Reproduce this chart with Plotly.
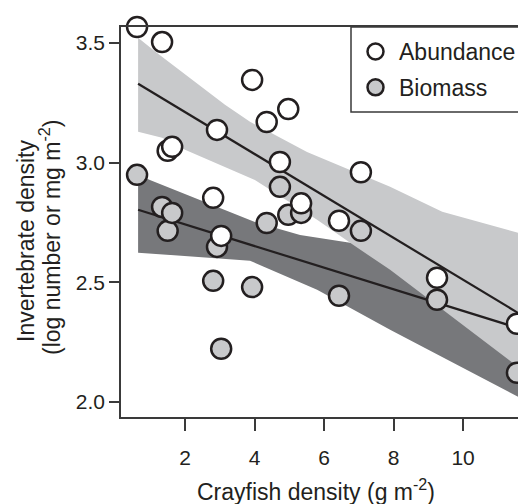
import plotly.graph_objects as go

# ---- data ----
crayfish = [0.62, 1.34, 1.50, 1.63, 2.81, 2.92, 3.04, 3.93, 4.35, 4.73, 4.97, 5.34, 6.43, 7.06, 9.25, 11.55]
abundance = [3.567, 3.504, 3.05, 3.066, 2.853, 3.137, 2.694, 3.346, 3.17, 3.003, 3.224, 2.83, 2.757, 2.96, 2.519, 2.327]
biomass = [2.949, 2.815, 2.715, 2.79, 2.506, 2.648, 2.222, 2.48, 2.748, 2.899, 2.782, 2.79, 2.444, 2.715, 2.427, 2.122]

fit_x = [0.65, 11.58]
ab_fit_y = [3.330, 2.372]
bm_fit_y = [2.803, 2.309]

ab_ci_up_x = [0.65, 1.14, 3.15, 3.87, 5.51, 7.90, 9.40, 11.58]
ab_ci_up_y = [3.522, 3.465, 3.242, 3.171, 3.045, 2.899, 2.795, 2.707]
ab_ci_lo_x = [0.65, 1.34, 2.00, 4.01, 5.80, 6.75, 7.90, 11.58]
ab_ci_lo_y = [3.129, 3.104, 3.054, 2.928, 2.761, 2.665, 2.552, 2.147]

bm_ci_up_x = [0.65, 0.99, 4.01, 5.31, 6.75, 11.58]
bm_ci_up_y = [2.949, 2.928, 2.752, 2.698, 2.665, 2.56]
bm_ci_lo_x = [0.65, 3.87, 5.80, 7.90, 11.58]
bm_ci_lo_y = [2.624, 2.590, 2.469, 2.302, 2.022]

x_ticks = [2, 4, 6, 8, 10]
y_ticks = [2.0, 2.5, 3.0, 3.5]
y_tick_text = ["2.0", "2.5", "3.0", "3.5"]

# ---- styles ----
INK = "#231f20"
LIGHT = "#c8c9cb"
DARK = "#77787b"
AXIS = "#3a3a3a"
FONT = "Liberation Sans, Arial, sans-serif"

fig = go.Figure()

fig.add_trace(go.Scatter(
    x=bm_ci_up_x + bm_ci_lo_x[::-1], y=bm_ci_up_y + bm_ci_lo_y[::-1],
    fill="toself", fillcolor=DARK, line=dict(width=0), mode="lines",
    showlegend=False, hoverinfo="skip"))
fig.add_trace(go.Scatter(
    x=ab_ci_up_x + ab_ci_lo_x[::-1], y=ab_ci_up_y + ab_ci_lo_y[::-1],
    fill="toself", fillcolor=LIGHT, line=dict(width=0), mode="lines",
    showlegend=False, hoverinfo="skip"))
fig.add_trace(go.Scatter(x=fit_x, y=bm_fit_y, mode="lines",
                         line=dict(color=INK, width=2.2), showlegend=False))
fig.add_trace(go.Scatter(x=fit_x, y=ab_fit_y, mode="lines",
                         line=dict(color=INK, width=2.2), showlegend=False))
fig.add_trace(go.Scatter(
    x=crayfish, y=biomass, mode="markers", name="Biomass", legendrank=2,
    legendgroup="b",
    marker=dict(size=20, color=LIGHT, line=dict(color=INK, width=2.5)),
    cliponaxis=False))
fig.add_trace(go.Scatter(
    x=crayfish, y=abundance, mode="markers", name="Abundance", legendrank=1,
    legendgroup="a",
    marker=dict(size=20, color="white", line=dict(color=INK, width=2.5)),
    cliponaxis=False))

# page body has an 8px margin: figure is drawn at (8, 8) in the window
OFF = 8
W, H = 526 - OFF, 504 - OFF
L, R, T, B = 121 - OFF, 0, 27 - OFF, 504 - 417
pw, ph = W - L - R, H - T - B

def px_x(p):
    return (p - OFF - L) / pw

def px_y(p):
    return (H - B - (p - OFF)) / ph

fig.update_layout(
    width=W, height=H,
    margin=dict(l=L, r=R, t=T, b=B, pad=0, autoexpand=False),
    paper_bgcolor="white", plot_bgcolor="white",
    font=dict(family=FONT, color=INK, size=21),
    showlegend=True,
    legend=dict(
        x=px_x(352), y=px_y(30), xanchor="left", yanchor="top",
        borderwidth=0, bgcolor="rgba(0,0,0,0)",
        font=dict(size=23, family=FONT, color=INK),
        itemsizing="trace", traceorder="grouped", tracegroupgap=3,
        itemwidth=37,
    ),
    shapes=[
        # legend frame; it runs past the right edge of the picture as in the reference
        dict(type="rect", xref="paper", yref="paper", layer="above",
             x0=px_x(351), x1=px_x(560), y0=px_y(112), y1=1,
             line=dict(color=AXIS, width=1.5), fillcolor="white"),
    ],
    xaxis=dict(
        range=[0.158, 11.81], tickvals=x_ticks, ticks="outside", ticklen=12,
        tickwidth=1.5, tickcolor=AXIS, showline=True, linewidth=1.5,
        linecolor=AXIS, mirror=True, showgrid=False, zeroline=False,
        tickfont=dict(size=21), ticklabelstandoff=9,
    ),
    yaxis=dict(
        range=[1.937, 3.567], tickvals=y_ticks, ticktext=y_tick_text,
        ticks="outside", ticklen=10, tickwidth=1.5, tickcolor=AXIS,
        showline=True, linewidth=1.5, linecolor=AXIS, showgrid=False,
        zeroline=False, tickfont=dict(size=21),
    ),
    annotations=[
        dict(text="Crayfish density (g m<sup>-2</sup>)", xref="paper", yref="paper",
             x=px_x(316), y=px_y(490), xanchor="center", yanchor="middle",
             showarrow=False, font=dict(size=23)),
        dict(text="Invertebrate density", xref="paper", yref="paper",
             x=px_x(26), y=px_y(241), xanchor="center", yanchor="middle",
             textangle=-90, showarrow=False, font=dict(size=23)),
        dict(text="(log number or mg m<sup>-2</sup>)", xref="paper", yref="paper",
             x=px_x(50), y=px_y(238), xanchor="center", yanchor="middle",
             textangle=-90, showarrow=False, font=dict(size=23)),
    ],
)

fig.write_html("out.html")
